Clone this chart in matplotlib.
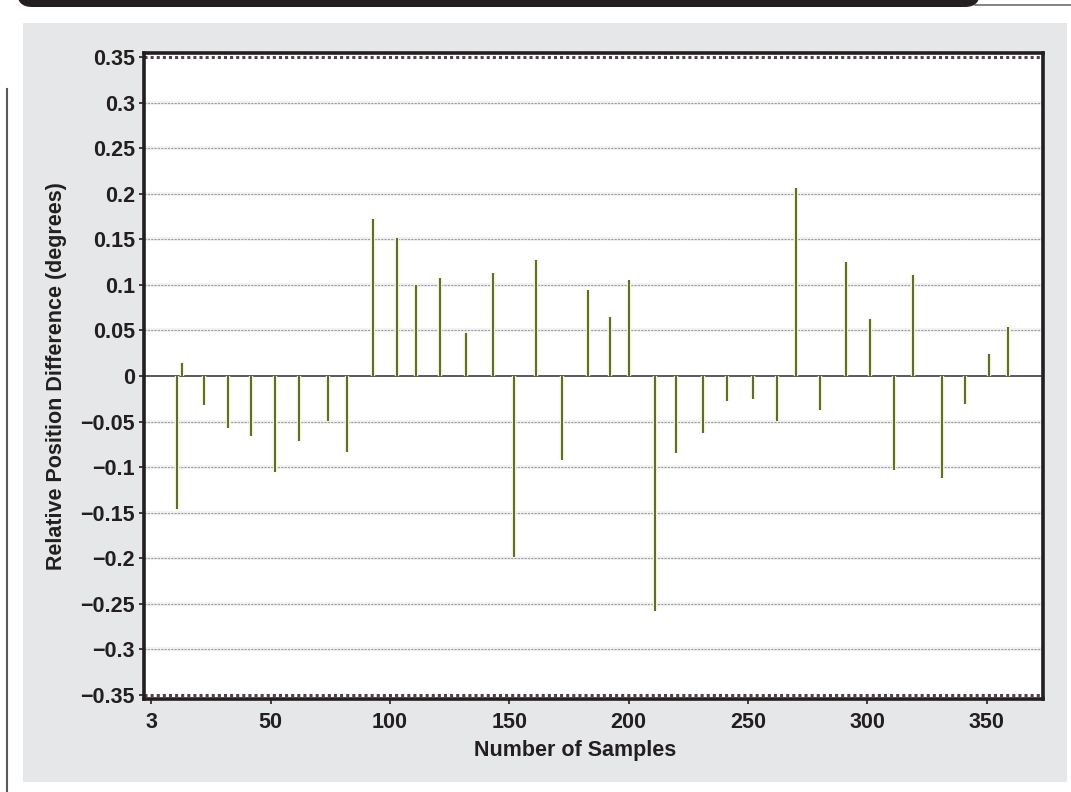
# importing numpy for the tick positions
import numpy as np
# importing pyplot and patches from matplotlib to draw the chart and the page decorations
import matplotlib
matplotlib.use('Agg')
import matplotlib.pyplot as plt
from matplotlib.patches import Rectangle, FancyBboxPatch
from matplotlib.lines import Line2D

# sample numbers where a difference was measured
samples = [11, 13, 22, 32, 42, 52, 62, 74, 82, 93, 103, 111, 121, 132, 143, 152, 161,
           172, 183, 192, 200, 211, 220, 231, 241, 252, 262, 270, 280, 291, 301, 311,
           319, 331, 341, 351, 359]

# relative position difference in degrees for every sample
differences = [-0.146, 0.014, -0.032, -0.057, -0.066, -0.105, -0.071, -0.049, -0.083,
               0.172, 0.151, 0.100, 0.107, 0.047, 0.113, -0.199, 0.127,
               -0.092, 0.094, 0.065, 0.105, -0.258, -0.084, -0.063, -0.027, -0.025,
               -0.049, 0.206, -0.037, 0.125, 0.063, -0.103, 0.111, -0.112, -0.031,
               0.024, 0.054]

# tick labels as printed on the original chart
x_tick_labels = ['3', '50', '100', '150', '200', '250', '300', '350']
y_tick_values = [0.35, 0.3, 0.25, 0.2, 0.15, 0.1, 0.05, 0, -0.05, -0.1, -0.15, -0.2, -0.25, -0.3, -0.35]
y_tick_labels = ['0.35', '0.3', '0.25', '0.2', '0.15', '0.1', '0.05', '0',
                 '\u22120.05', '\u22120.1', '\u22120.15', '\u22120.2', '\u22120.25', '\u22120.3', '\u22120.35']

plt.rcParams['font.family'] = ['Liberation Sans', 'DejaVu Sans']
plt.rcParams['font.weight'] = 'bold'
text_color = '#231f20'

W, H = 1071, 792
fig = plt.figure(figsize=(W / 100, H / 100), dpi=100)
fig.patch.set_facecolor('white')

# page decorations: black band at the top, thin line at the left, gray panel
fig.patches.append(FancyBboxPatch((17 / W, 1 - 7 / H), (980 - 17) / W, 40 / H,
                                  boxstyle='round,pad=0,rounding_size=0.014',
                                  transform=fig.transFigure, facecolor='#231f20',
                                  edgecolor='none', mutation_aspect=W / H, zorder=-5))
fig.lines.append(Line2D([975 / W, 1.0], [1 - 5 / H, 1 - 5 / H], transform=fig.transFigure,
                        color='#6d6e71', linewidth=1.2, zorder=-5))
fig.lines.append(Line2D([6.5 / W, 6.5 / W], [0, 1 - 89 / H], transform=fig.transFigure,
                        color='#58595b', linewidth=1.5, zorder=-5))
fig.patches.append(Rectangle((23 / W, 1 - 782 / H), (1067 - 23) / W, (782 - 23) / H,
                             transform=fig.transFigure, facecolor='#e6e7e8',
                             edgecolor='none', zorder=-5))

# axes area
ax = fig.add_axes([144 / W, 1 - 699 / H, (1043 - 144) / W, (699 - 53) / H])
ax.set_zorder(5)
ax.set_facecolor('white')
ax.set_xlim(-3, 373.5)
ax.set_ylim(-0.3544, 0.3544)

# horizontal dotted gridlines
for v in y_tick_values:
    if v == 0 or abs(v) == 0.35:
        continue
    ax.axhline(v, color='#f3f3f3', linewidth=3.0, zorder=1)
    ax.axhline(v, color='#9d9fa2', linewidth=0.8, linestyle=(0, (2, 1)), zorder=1)

# dotted limit lines at +/- 0.35
ax.axhline(0.35, color='#5a3d4d', linewidth=2.2, linestyle=(0, (1, 1)), zorder=2)
ax.axhline(-0.35, color='#5a3d4d', linewidth=2.2, linestyle=(0, (1, 1)), zorder=2)

# zero line
ax.axhline(0, color='#58595b', linewidth=1.4, zorder=2)

# stems with their faint yellow halo
ax.vlines(samples, 0, differences, color='#f6f3c8', linewidth=3.2, zorder=3)
ax.vlines(samples, 0, differences, color='#4e5d2c', linewidth=1.3, zorder=4)

# ticks and labels
ax.set_xticks(np.arange(0, 351, 50))
ax.set_xticklabels(x_tick_labels)
ax.set_yticks(y_tick_values)
ax.set_yticklabels(y_tick_labels)
ax.tick_params(axis='x', direction='out', length=3.5, width=1.2, color=text_color,
               labelsize=15.5, labelcolor=text_color, pad=5.5)
ax.tick_params(axis='y', direction='out', length=3.5, width=1.2, color=text_color,
               labelsize=15.5, labelcolor=text_color, pad=3)

for side in ['left', 'right', 'top', 'bottom']:
    ax.spines[side].set_color(text_color)
    ax.spines[side].set_linewidth(2.6)

ax.set_xlabel('Number of Samples', fontsize=15.5, fontweight='bold', color=text_color)
ax.xaxis.set_label_coords((575 - 144) / (1043 - 144), -(740 - 699) / (699 - 53))
ax.set_ylabel('Relative Position Difference (degrees)', fontsize=15.5, fontweight='bold',
              color=text_color)
ax.yaxis.set_label_coords(-(144 - 67) / (1043 - 144), 0.5)

fig.savefig('out.png', dpi=100, facecolor=fig.get_facecolor())
